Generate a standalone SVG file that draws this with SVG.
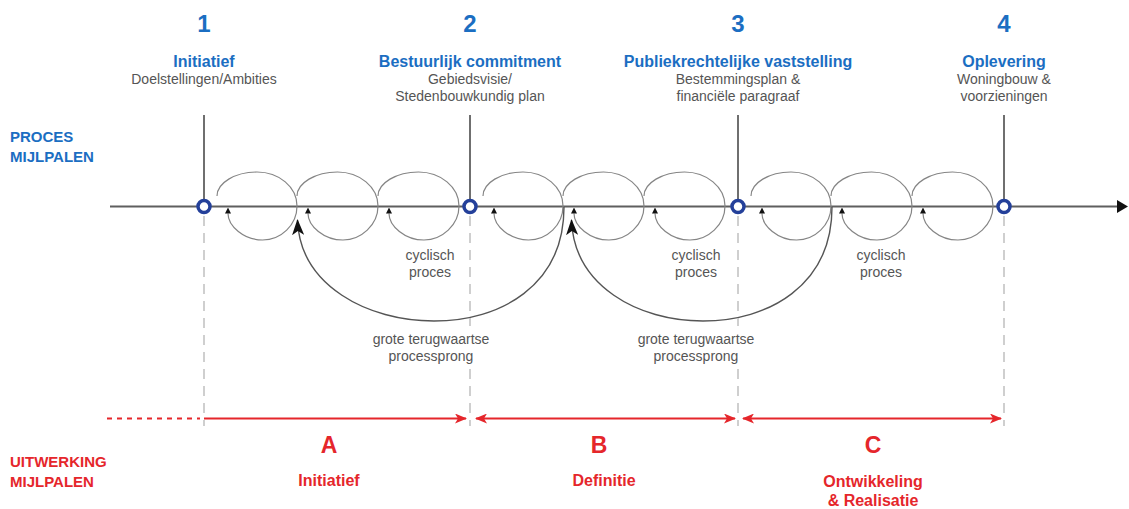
<svg xmlns="http://www.w3.org/2000/svg" xmlns:xlink="http://www.w3.org/1999/xlink" width="1129" height="509" viewBox="0 0 1129 509">
<style>
  .num{font-family:"Liberation Sans",Arial,sans-serif;font-weight:bold;font-size:24px;fill:#1b6ec2;text-anchor:middle}
  .ttl{font-family:"Liberation Sans",Arial,sans-serif;font-weight:bold;font-size:16px;fill:#1b6ec2;text-anchor:middle}
  .sub{font-family:"Liberation Sans",Arial,sans-serif;font-size:14px;fill:#555;text-anchor:middle}
  .side{font-family:"Liberation Sans",Arial,sans-serif;font-weight:bold;font-size:15px}
  .blue{fill:#1b6ec2}
  .red{fill:#e5262b}
  .phl{font-family:"Liberation Sans",Arial,sans-serif;font-weight:bold;font-size:23px;fill:#e5262b;text-anchor:middle}
  .phn{font-family:"Liberation Sans",Arial,sans-serif;font-weight:bold;font-size:16px;fill:#e5262b;text-anchor:middle}
  .note{font-family:"Liberation Sans",Arial,sans-serif;font-size:14px;fill:#555;text-anchor:middle}
  .pole{stroke:#6f6f6f;stroke-width:2;fill:none}
  .dash{stroke:#c4c4c4;stroke-width:1.6;stroke-dasharray:10 7;fill:none}
  .ms{fill:#fff;stroke:#24409a;stroke-width:3.5}
  .axis{stroke:#5f5f5f;stroke-width:2;fill:none}
  .loop{stroke:#858585;stroke-width:1.2;fill:none;marker-end:url(#tri)}
  .jump{stroke:#555;stroke-width:1.4;fill:none;marker-end:url(#big)}
  .span{stroke:#e5262b;stroke-width:1.8;fill:none}
</style>
<defs>
  <marker id="tri" markerUnits="userSpaceOnUse" markerWidth="6" markerHeight="6" viewBox="0 0 5 5" refX="0" refY="2.5" orient="auto">
    <path d="M0,0 L5,2.5 L0,5 z" fill="#111"/>
  </marker>
  <marker id="big" markerUnits="userSpaceOnUse" markerWidth="16" markerHeight="12" viewBox="0 0 16 12" refX="15" refY="6" orient="auto">
    <path d="M0,0 L16,6 L0,12 L4,6 z" fill="#111"/>
  </marker>
  <marker id="axhead" markerUnits="userSpaceOnUse" markerWidth="11" markerHeight="13" viewBox="0 0 11 13" refX="0" refY="6.5" orient="auto">
    <path d="M0,0 L11,6.5 L0,13 z" fill="#111"/>
  </marker>
  <marker id="redhead" markerUnits="userSpaceOnUse" markerWidth="12" markerHeight="10" viewBox="0 0 12 10" refX="11" refY="5" orient="auto-start-reverse">
    <path d="M0,0 L12,5 L0,10 L3,5 z" fill="#e5262b"/>
  </marker>
  <g id="loopset">
    <path class="loop" d="M13,196 C13,183 31,172 53,172 C75,172 93,187 93,206 C93,225 77,240 58.5,240 C40,240 24,226 24,213.5"/>
    <path class="loop" d="M93,196 C93,183 111.5,172 133.5,172 C155.5,172 174,187 174,206 C174,225 157,240 139,240 C120,240 104,226 104,213.5"/>
    <path class="loop" d="M174,196 C174,183 192.5,172 214.5,172 C236.5,172 255,187 255,206 C255,225 238,240 220,240 C201,240 185,226 185,213.5"/>
  </g>
</defs>

<g id="side-labels">
  <text class="side blue" x="10" y="142">PROCES</text>
  <text class="side blue" x="10" y="162">MIJLPALEN</text>
  <text class="side red" x="10" y="467">UITWERKING</text>
  <text class="side red" x="10" y="487">MIJLPALEN</text>
</g>

<g id="connectors">
  <path class="axis" d="M110,206.5 L1117,206.5" marker-end="url(#axhead)"/>
  <use xlink:href="#loopset" href="#loopset" x="204" y="0"/>
  <use xlink:href="#loopset" href="#loopset" x="470" y="0"/>
  <use xlink:href="#loopset" href="#loopset" x="738" y="0"/>
  <path class="jump" d="M564,207 C564,286 500,321 434,321 C368,321 300,286 297.5,220"/>
  <path class="jump" d="M832,207 C832,286 768,321 703,321 C638,321 574,286 571.5,220"/>
</g>

<g id="cycle-labels">
  <text class="note" x="430" y="260">cyclisch</text>
  <text class="note" x="430" y="277">proces</text>
  <text class="note" x="696" y="260">cyclisch</text>
  <text class="note" x="696" y="277">proces</text>
  <text class="note" x="881" y="260">cyclisch</text>
  <text class="note" x="881" y="277">proces</text>
  <text class="note" x="431" y="344">grote terugwaartse</text>
  <text class="note" x="431" y="361">processprong</text>
  <text class="note" x="696" y="344">grote terugwaartse</text>
  <text class="note" x="696" y="361">processprong</text>
</g>

<g id="milestone-1">
  <line class="pole" x1="204" y1="115" x2="204" y2="200"/>
  <line class="dash" x1="204" y1="216" x2="204" y2="426"/>
  <circle class="ms" cx="204" cy="206.5" r="6"/>
  <text class="num" x="204" y="32">1</text>
  <text class="ttl" x="204" y="67">Initiatief</text>
  <text class="sub" x="204" y="84">Doelstellingen/Ambities</text>
</g>
<g id="milestone-2">
  <line class="pole" x1="470" y1="115" x2="470" y2="200"/>
  <path class="dash" d="M470,216 V326 M470,369 V426"/>
  <circle class="ms" cx="470" cy="206.5" r="6"/>
  <text class="num" x="470" y="32">2</text>
  <text class="ttl" x="470" y="67">Bestuurlijk commitment</text>
  <text class="sub" x="470" y="84">Gebiedsvisie/</text>
  <text class="sub" x="470" y="101">Stedenbouwkundig plan</text>
</g>
<g id="milestone-3">
  <line class="pole" x1="738" y1="115" x2="738" y2="200"/>
  <path class="dash" d="M738,216 V326 M738,369 V426"/>
  <circle class="ms" cx="738" cy="206.5" r="6"/>
  <text class="num" x="738" y="32">3</text>
  <text class="ttl" x="738" y="67">Publiekrechtelijke vaststelling</text>
  <text class="sub" x="738" y="84">Bestemmingsplan &amp;</text>
  <text class="sub" x="738" y="101">financiële paragraaf</text>
</g>
<g id="milestone-4">
  <line class="pole" x1="1004" y1="115" x2="1004" y2="200"/>
  <line class="dash" x1="1004" y1="216" x2="1004" y2="426"/>
  <circle class="ms" cx="1004" cy="206.5" r="6"/>
  <text class="num" x="1004" y="32">4</text>
  <text class="ttl" x="1004" y="67">Oplevering</text>
  <text class="sub" x="1004" y="84">Woningbouw &amp;</text>
  <text class="sub" x="1004" y="101">voorzieningen</text>
</g>

<g id="phase-A">
  <line class="span" x1="107" y1="418.5" x2="200" y2="418.5" stroke-dasharray="5 5"/>
  <path class="span" d="M204,418.5 L466,418.5" marker-end="url(#redhead)"/>
  <text class="phl" x="329" y="453">A</text>
  <text class="phn" x="329" y="486">Initiatief</text>
</g>
<g id="phase-B">
  <path class="span" d="M476,418.5 L735,418.5" marker-start="url(#redhead)" marker-end="url(#redhead)"/>
  <text class="phl" x="599" y="453">B</text>
  <text class="phn" x="604" y="486">Definitie</text>
</g>
<g id="phase-C">
  <path class="span" d="M743,418.5 L1001,418.5" marker-start="url(#redhead)" marker-end="url(#redhead)"/>
  <text class="phl" x="873" y="453">C</text>
  <text class="phn" x="873" y="487">Ontwikkeling</text>
  <text class="phn" x="873" y="506">&amp; Realisatie</text>
</g>
</svg>
